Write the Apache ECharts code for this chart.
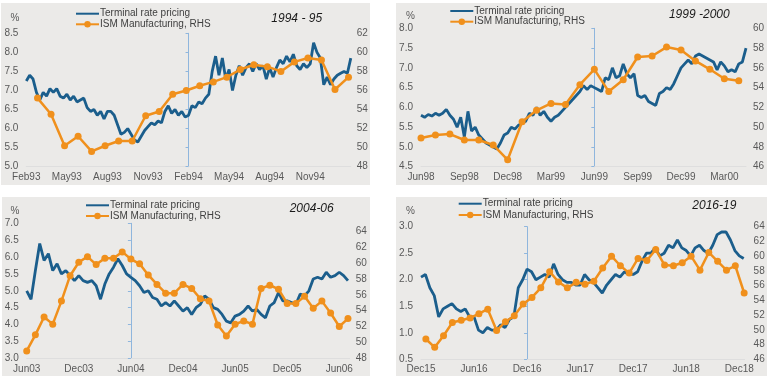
<!DOCTYPE html>
<html><head><meta charset="utf-8">
<script src="https://cdn.jsdelivr.net/npm/echarts@6/dist/echarts.min.js"></script>
<style>html,body{margin:0;padding:0;background:#fff}#c{width:773px;height:381px}</style>
</head><body><div id="c"></div>
<script>
// ---------- Panel 1: 1994 - 95 (x = months relative to Feb94) ----------
const p1Title = '1994 - 95';
const p1Ticks = ['Feb93','May93','Aug93','Nov93','Feb94','May94','Aug94','Nov94'];
const p1Terminal = [7.25,7.4,7.3,6.95,6.75,6.95,6.85,7.05,6.95,7.05,6.85,6.8,6.9,6.75,6.85,6.7,6.75,6.8,6.55,6.45,6.5,6.35,6.45,6.25,
  6.45,6.45,6.35,6.1,5.85,5.9,6.0,5.85,5.7,5.65,5.8,5.95,6.05,6.15,6.1,6.2,6.15,6.45,6.6,6.4,6.5,6.35,6.45,6.3,
  6.35,6.6,6.55,6.7,6.65,6.8,6.9,7.5,7.9,7.4,7.85,7.3,7.55,7.0,7.4,7.65,7.4,7.6,7.7,7.5,7.7,7.55,7.65,7.3,
  7.6,7.35,7.6,7.8,7.7,7.9,7.75,7.95,7.65,7.55,7.7,7.6,7.7,8.25,8.0,7.85,7.15,7.35,7.15,7.3,7.4,7.45,7.5,7.45,7.85];
const p1Ism = [55.2,53.5,50.2,51.2,49.6,50.2,50.7,50.7,53.35,53.8,55.6,56.0,56.5,56.9,57.4,58.2,58.7,58.5,58.0,59.0,59.4,59.2,56.1,57.4];

// ---------- Panel 2: 1999 -2000 (x = months relative to Jun99) ----------
const p2Title = '1999 -2000';
const p2Ticks = ['Jun98','Sep98','Dec98','Mar99','Jun99','Sep99','Dec99','Mar00'];
const p2Terminal = [5.8,5.75,5.82,5.78,5.85,5.8,5.85,5.95,5.8,5.7,5.5,5.75,5.25,5.9,5.4,5.5,5.3,5.2,5.1,5.05,5.0,4.95,5.1,5.3,
  5.35,5.5,5.45,5.55,5.6,5.65,5.85,5.8,6.0,5.8,5.9,5.75,5.65,5.75,5.8,5.9,6.0,6.1,6.2,6.3,6.4,6.55,6.45,6.55,
  6.5,6.45,6.4,6.75,6.7,7.0,6.75,6.8,7.1,6.85,6.75,6.85,6.3,6.25,6.3,6.15,6.1,6.05,6.35,6.4,6.5,6.45,6.6,6.8,
  7.0,7.1,7.2,7.1,7.3,7.35,7.3,7.25,7.2,7.15,6.95,7.15,7.05,6.9,6.95,6.9,7.1,7.15,7.5];
const p2Ism = [48.9,49.2,49.3,48.7,48.7,48.2,46.7,50.55,51.7,52.4,52.3,54.3,55.85,53.6,54.8,57.1,57.2,58.1,57.8,56.7,55.85,54.9,54.7];

// ---------- Panel 3: 2004-06 (x = months relative to Jun04) ----------
const p3Title = '2004-06';
const p3Ticks = ['Jun03','Dec03','Jun04','Dec04','Jun05','Dec05','Jun06'];
const p3Terminal = [5.0,4.75,5.6,6.4,5.9,6.1,5.6,5.8,5.5,5.6,5.45,5.3,5.45,5.3,5.25,5.3,5.15,4.75,5.2,5.5,5.7,5.95,5.75,5.5,
  5.4,5.3,5.15,4.95,5.0,4.8,4.75,4.55,4.65,4.55,4.7,4.55,4.4,4.5,4.3,4.5,4.6,4.85,4.75,4.5,4.45,4.3,4.1,4.05,
  4.25,4.3,4.4,4.55,4.4,4.45,4.3,4.2,4.55,4.65,4.95,4.7,4.7,4.65,4.6,4.9,4.85,5.0,5.35,5.4,5.35,5.55,5.4,5.45,5.55,5.45,5.3];
const p3Ism = [48.93,50.95,53.2,52.3,55.2,58.4,60.1,60.8,59.8,60.6,60.6,61.4,60.5,59.9,58.5,57.3,56.2,56.2,57.3,56.8,55.5,55.2,52.2,50.8,
  52.3,52.7,52.3,56.8,57.2,56.7,54.9,54.9,55.8,54.3,55.2,53.7,52.0,53.0];

// ---------- Panel 4: 2016-19 (x = months relative to Dec16) ----------
const p4Title = '2016-19';
const p4Ticks = ['Dec15','Jun16','Dec16','Jun17','Dec17','Jun18','Dec18'];
const p4Terminal = [2.05,2.1,1.85,1.7,1.3,1.45,1.5,1.55,1.45,1.4,1.45,1.3,1.3,1.05,1.0,1.1,1.05,1.05,1.15,1.1,1.25,1.3,1.85,2.0,
  2.2,2.15,2.0,2.05,2.1,2.05,2.3,2.1,2.0,1.95,1.95,1.9,1.9,2.1,2.0,1.95,1.85,1.75,1.9,2.0,2.1,2.05,2.15,2.1,
  2.1,2.15,2.35,2.5,2.5,2.6,2.45,2.5,2.65,2.6,2.75,2.6,2.55,2.45,2.6,2.65,2.55,2.5,2.65,2.85,2.9,2.9,2.75,2.55,2.45,2.4];
const p4Ism = [48.76,47.63,49.2,51.0,51.3,51.6,52.2,52.8,49.9,51.1,51.9,53.5,54.4,55.7,57.9,56.5,55.7,56.45,56.2,56.6,58.4,60.0,58.7,57.7,
  59.7,59.4,60.9,58.8,58.7,59.1,60.0,58.1,60.5,59.3,58.1,58.7,55.0];

const T_NAME = 'Terminal rate pricing';
const I_NAME = 'ISM Manufacturing, RHS';
const BLUE = '#1b5e8c', ORANGE = '#f0901c', VLINE = '#8fb6dd', LBL = '#595959';
const FONT = '"Liberation Sans", Arial, sans-serif';

const panels = [
  { title:p1Title, ticks:p1Ticks, term:p1Terminal, ism:p1Ism, step:0.25, ismOff:0.83, xInt:3, xMax:12,
    l:[5,8.5], r:[48,62], grid:{left:26.3,top:33.3,width:324.5,height:133.4}, bg:[1,3,369,182],
    leg:[75,8.7,19.3], ttl:[296.7,18.3], pct:[15,18.3], rm:6, xm:6 },
  { title:p2Title, ticks:p2Ticks, term:p2Terminal, ism:p2Ism, step:0.25, ismOff:0, xInt:3, xMax:10.5,
    l:[4.5,8], r:[46,60], grid:{left:421,top:28.3,width:325,height:138.4}, bg:[396,3,371,182],
    leg:[449.3,6,16.7], ttl:[699.3,15], pct:[410.5,16.7], rm:7, xm:6 },
  { title:p3Title, ticks:p3Ticks, term:p3Terminal, ism:p3Ism, step:0.5, ismOff:0, xInt:6, xMax:25.2,
    l:[3,7], r:[48,65], grid:{left:26.7,top:223.3,width:323,height:135}, bg:[2,197,368,179],
    leg:[85,200.3,211], ttl:[311.7,208.3], pct:[15,211.7], rm:6, xm:6 },
  { title:p4Title, ticks:p4Ticks, term:p4Terminal, ism:p4Ism, step:0.5, ismOff:0.55, xInt:6, xMax:24.6,
    l:[0.5,3], r:[46,64], grid:{left:421,top:226.7,width:323.6,height:132.6}, bg:[396,197,371,179],
    leg:[457.7,198.7,210], ttl:[714.3,206], pct:[410.5,211.7], rm:9, xm:5 }
];

const option = { animation:false, grid:[], xAxis:[], yAxis:[], series:[], legend:[], graphic:[] };
panels.forEach((p, i) => {
  option.grid.push(Object.assign({}, p.grid));
  option.graphic.push({ type:'rect', z:-10, shape:{x:p.bg[0], y:p.bg[1], width:p.bg[2], height:p.bg[3]}, style:{fill:'#ebeae8'} });
  option.graphic.push({ type:'text', z:10, x:p.ttl[0], y:p.ttl[1], style:{ text:p.title, font:'italic 12px ' + FONT, fill:'#1a1a1a', align:'center', verticalAlign:'middle' } });
  option.graphic.push({ type:'text', z:10, x:p.pct[0], y:p.pct[1], style:{ text:'%', font:'10px ' + FONT, fill:LBL, align:'center', verticalAlign:'middle' } });
  const xMin = -12;
  option.xAxis.push({
    type:'value', gridIndex:i, min:xMin, max:p.xMax, interval:p.xInt,
    axisLine:{ show:true, onZero:false, lineStyle:{ color:'#dedede', width:1 } },
    axisTick:{ show:false }, splitLine:{ show:false },
    axisLabel:{ margin:p.xm, color:LBL, fontSize:10, fontFamily:FONT, showMaxLabel:true,
      formatter: v => { const k = (v - xMin) / p.xInt; const r = Math.round(k); return Math.abs(k - r) < 1e-6 && p.ticks[r] ? p.ticks[r] : ''; } }
  });
  const li = option.yAxis.length;
  option.yAxis.push({ type:'value', gridIndex:i, position:'left', min:p.l[0], max:p.l[1], interval:0.5,
    axisLine:{ show:false, onZero:false }, axisTick:{ show:false }, splitLine:{ show:false },
    axisLabel:{ margin:8, color:LBL, fontSize:10, fontFamily:FONT, formatter: v => v.toFixed(1) } });
  option.yAxis.push({ type:'value', gridIndex:i, position:'right', min:p.r[0], max:p.r[1], interval:2,
    axisLine:{ show:false, onZero:false }, axisTick:{ show:false }, splitLine:{ show:false },
    axisLabel:{ margin:p.rm, color:LBL, fontSize:10, fontFamily:FONT, formatter: v => (Math.abs(v % 2) < 1e-6 ? String(v) : '') } });
  // vertical divider: an extra y axis sitting on x = 0
  option.yAxis.push({ type:'value', gridIndex:i, position:'left', min:p.l[0], max:p.l[1], interval:0.5,
    axisLine:{ show:true, onZero:true, lineStyle:{ color:VLINE, width:1 } },
    axisTick:{ show:true, length:3, lineStyle:{ color:VLINE, width:1 } },
    axisLabel:{ show:false }, splitLine:{ show:false } });
  option.series.push({ name:T_NAME, type:'line', xAxisIndex:i, yAxisIndex:li, symbol:'none', z:3,
    lineStyle:{ color:BLUE, width:2.8 }, itemStyle:{ color:BLUE },
    data: p.term.map((v, k) => [xMin + k * p.step, v]) });
  option.series.push({ name:I_NAME, type:'line', xAxisIndex:i, yAxisIndex:li + 1, symbol:'circle', symbolSize:7, z:4,
    lineStyle:{ color:ORANGE, width:2.5 }, itemStyle:{ color:ORANGE },
    data: p.ism.map((v, k) => [xMin + k + p.ismOff, v]) });
  [[{ name:T_NAME, itemStyle:{ opacity:0 } }, p.leg[1]], [{ name:I_NAME }, p.leg[2]]].forEach(([d, tp]) => {
    option.legend.push({ left:p.leg[0], top:tp, padding:0, itemWidth:23, itemHeight:8, itemGap:0, orient:'vertical',
      selectedMode:false, data:[d],
      textStyle:{ fontSize:10, color:'#404040', fontFamily:FONT, padding:[0,0,0,-4] } });
  });
});

const chart = echarts.init(document.getElementById('c'), null, { renderer:'canvas' });
chart.setOption(option);
</script>
</body></html>
